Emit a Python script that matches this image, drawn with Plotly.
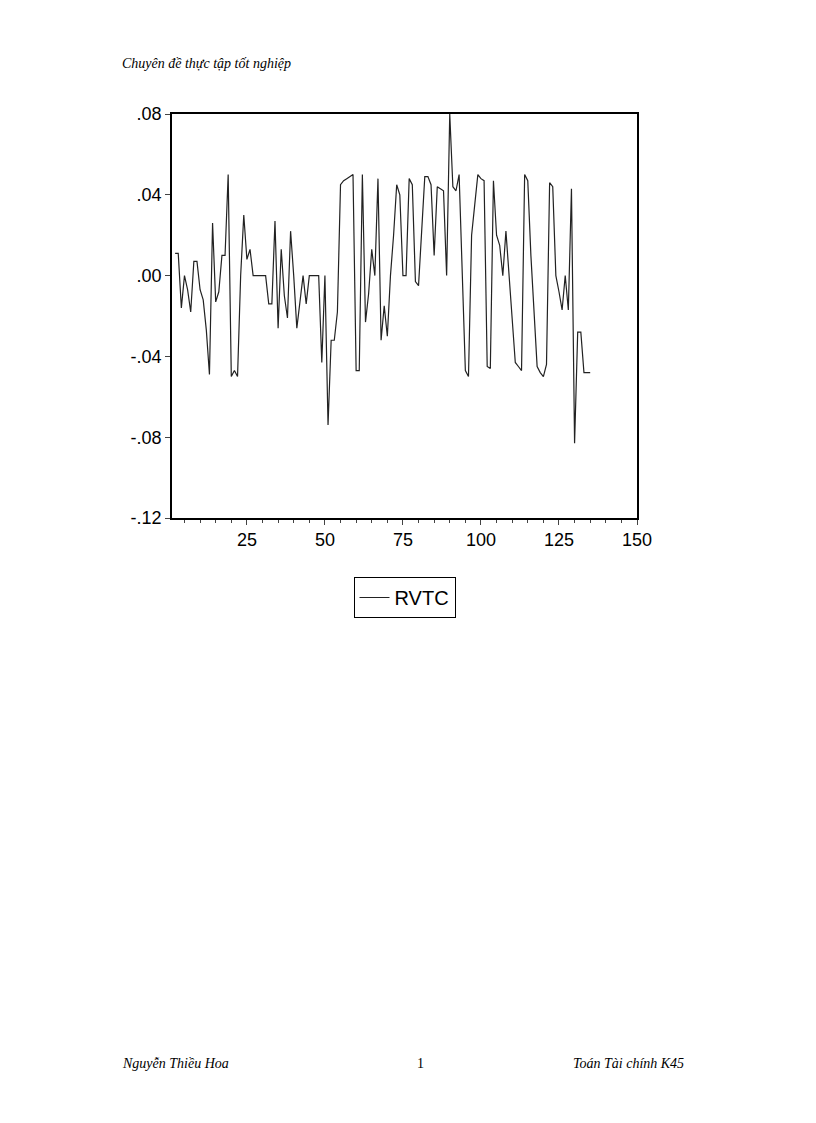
import plotly.graph_objects as go

# RVTC series (obs 2..135)
rvtc = [
    0.011, 0.011, -0.016, 0.000, -0.007, -0.018, 0.007, 0.007, -0.007, -0.012,
    -0.027, -0.049, 0.026, -0.013, -0.008, 0.010, 0.010, 0.050, -0.050, -0.047,
    -0.050, 0.000, 0.030, 0.008, 0.013, 0.000, 0.000, 0.000, 0.000, 0.000, -0.014,
    -0.014, 0.027, -0.026, 0.013, -0.010, -0.021, 0.022, 0.000, -0.026, -0.013,
    0.000, -0.014, 0.000, 0.000, 0.000, 0.000, -0.043, 0.000, -0.074, -0.032, -0.032,
    -0.018, 0.045, 0.047, 0.048, 0.049, 0.050, -0.047, -0.047, 0.050, -0.023,
    -0.009, 0.013, 0.000, 0.048, -0.032, -0.015, -0.030, 0.000, 0.020,
    0.045, 0.040, 0.000, 0.000, 0.048, 0.045, -0.003, -0.005, 0.020, 0.049,
    0.049, 0.045, 0.010, 0.044, 0.043, 0.042, 0.000, 0.080, 0.044,
    0.042, 0.050, 0.000, -0.047, -0.050, 0.020, 0.035, 0.050, 0.048, 0.047,
    -0.045, -0.046, 0.047, 0.020, 0.015, 0.000, 0.022, 0.000, -0.018, -0.043,
    -0.045, -0.047, 0.050, 0.047, 0.010, -0.020, -0.045, -0.048, -0.050, -0.044,
    0.046, 0.044, 0.000, -0.008, -0.017, 0.000, -0.017, 0.043, -0.083, -0.028,
    -0.028, -0.048, -0.048, -0.048,
]
obs = list(range(2, len(rvtc) + 2))

fig = go.Figure()
fig.add_trace(go.Scatter(x=obs, y=rvtc, mode="lines", name="RVTC",
                         line=dict(color="#222222", width=1.2)))

fig.update_xaxes(range=[1, 150], tickvals=[25, 50, 75, 100, 125, 150],
                 ticks="outside", ticklen=5, showgrid=False, zeroline=False,
                 showline=True, linecolor="black", linewidth=1.5, mirror=True,
                 minor=dict(dtick=5, ticks="outside", ticklen=3))
fig.update_yaxes(range=[-0.12, 0.08], tickvals=[-0.12, -0.08, -0.04, 0, 0.04, 0.08],
                 ticktext=["-.12", "-.08", "-.04", ".00", ".04", ".08"],
                 ticks="outside", ticklen=5, showgrid=False, zeroline=False,
                 showline=True, linecolor="black", linewidth=1.5, mirror=True)

serif = dict(family="Liberation Serif", size=14, color="black")
fig.add_annotation(text="<i>Chuyên đề thực tập tốt nghiệp</i>", xref="paper", yref="paper",
                   x=-0.112, y=1.148, showarrow=False, xanchor="left", font=serif)
fig.add_annotation(text="<i>Nguyễn Thiều Hoa</i>", xref="paper", yref="paper",
                   x=-0.112, y=-1.374, showarrow=False, xanchor="left", font=serif)
fig.add_annotation(text="1", xref="paper", yref="paper",
                   x=0.535, y=-1.374, showarrow=False, font=serif)
fig.add_annotation(text="<i>Toán Tài chính K45</i>", xref="paper", yref="paper",
                   x=1.105, y=-1.374, showarrow=False, xanchor="right", font=serif)

fig.update_layout(
    width=816, height=1123, plot_bgcolor="white", paper_bgcolor="white",
    margin=dict(l=164, r=187, t=106, b=613, autoexpand=False),
    font=dict(family="Arial", size=18, color="black"),
    showlegend=True,
    legend=dict(x=0.5, y=-0.146, xanchor="center", yanchor="top",
                bordercolor="black", borderwidth=1, font=dict(size=20)),
)
fig.write_html("out.html")
